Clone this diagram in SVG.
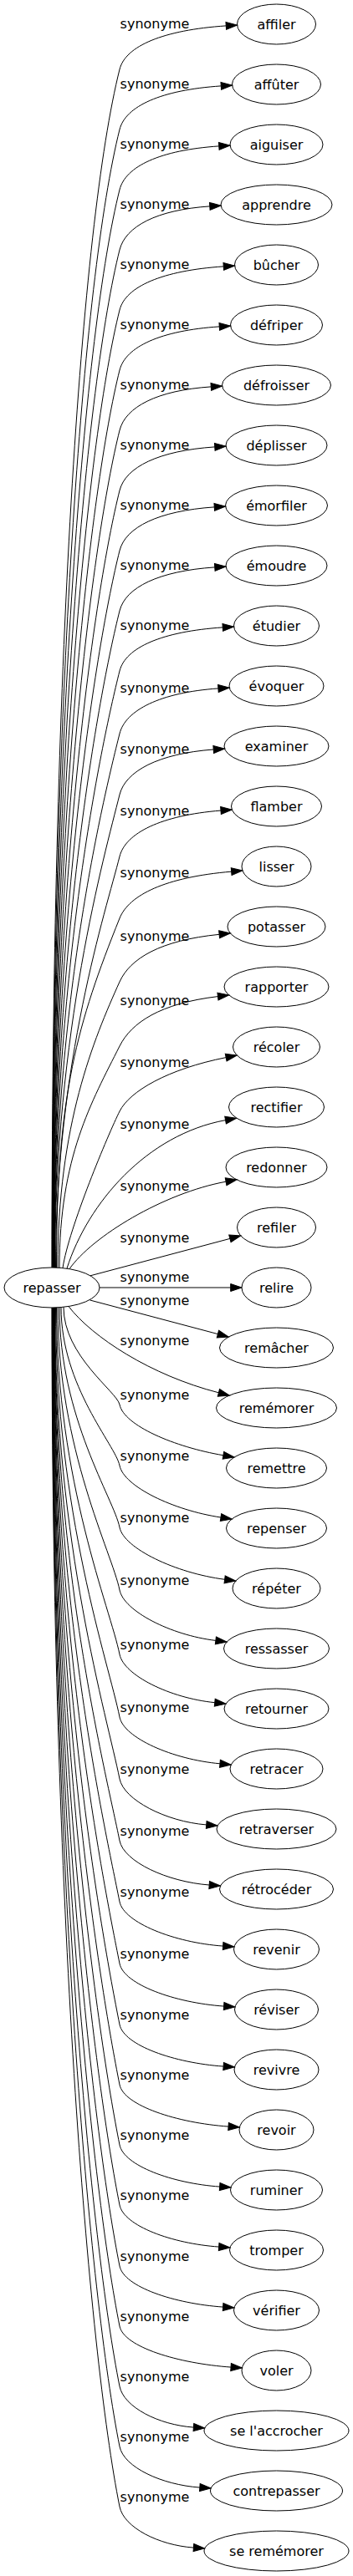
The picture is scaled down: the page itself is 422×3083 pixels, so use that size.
<svg xmlns="http://www.w3.org/2000/svg" width="422" height="3083" viewBox="0 0 422 3083">
<style>
.node ellipse{fill:none;stroke:#000;stroke-width:1}
text{font-family:"DejaVu Sans","Liberation Sans",sans-serif;font-size:16px;fill:#000;text-anchor:middle}
#edges path{fill:none;stroke:#000;stroke-width:1;marker-end:url(#arr)}
</style>
<defs>
<marker id="arr" markerUnits="userSpaceOnUse" viewBox="0 -6 16 12" markerWidth="16" markerHeight="12" refX="0" refY="0" orient="auto" overflow="visible">
<path d="M0,-4.5L13.3,0L0,4.5z" fill="#000" stroke="#000" stroke-width="1"/>
</marker>
</defs>
<rect width="422" height="3083" fill="#fff"/>
<g id="edges">
<path d="M62,1517 C62,800 96.4,269.4 143,83 C150,55 195.18,35.92 270.27,30.89"/>
<path d="M62.3,1517 C62.3,836 98.73,332.06 143,155 C150,127 192.72,107.68 264.28,102.89"/>
<path d="M62.6,1517 C62.6,872 101.07,394.7 143,227 C150,199 191.7,179.59 261.78,174.89"/>
<path d="M62.9,1517 C62.9,908 103.42,457.34 143,299 C150,271 187.19,251.15 250.79,246.89"/>
<path d="M63.2,1517 C63.2,944 105.75,519.98 143,371 C150,343 193.95,323.8 267.27,318.89"/>
<path d="M63.5,1517 C63.5,980 108.1,582.62 143,443 C150,415 191.9,395.61 262.28,390.89"/>
<path d="M63.8,1517 C63.8,1016 110.43,645.26 143,515 C150,487 187.81,467.21 252.29,462.89"/>
<path d="M64.1,1517 C64.1,1052 112.77,707.9 143,587 C150,559 189.65,539.39 256.78,534.89"/>
<path d="M64.4,1517 C64.4,1088 115.11,770.54 143,659 C150,631 189.44,611.37 256.28,606.89"/>
<path d="M64.7,1517 C64.7,1124 117.45,833.18 143,731 C150,703 189.65,683.39 256.78,678.89"/>
<path d="M65,1517 C65,1160 119.79,895.82 143,803 C150,775 193.54,755.76 266.27,750.89"/>
<path d="M65.3,1517 C65.3,1197.5 122.23,961.07 143,878 C150,850 191.35,828.8 260.93,823.93"/>
<path d="M65.6,1517 C65.6,1234 124.6,1024.58 143,951 C150,923 189.01,901.96 255.23,896.99"/>
<path d="M66.5,1517 C66.5,1271 127.01,1088.96 143,1025 C150,997 192.61,975.77 264,970.06"/>
<path d="M67.5,1517 C67.5,1308 93,1224 143,1099 C154.2,1071 197.8,1049.83 276.66,1043.13"/>
<path d="M69,1517.2 C69,1346.1 112.2,1243.4 143,1175 C155.6,1147 191.84,1125.35 262.12,1118.32"/>
<path d="M71,1517.3 C71,1384.65 109.8,1318.3 143,1252 C157,1224 191.16,1200.91 260.47,1192.59"/>
<path d="M75,1517.6 C82,1470 130,1356 143,1330 C155,1306 200.26,1279.59 270.16,1265.61"/>
<path d="M80,1518 C105,1440 175,1358 269.56,1340.61"/>
<path d="M83,1518.7 C110,1480 195,1428 270.1,1414.2"/>
<path d="M108,1526.8 L274.9,1482.4"/>
<path d="M119,1541 L275.7,1541"/>
<path d="M107.5,1556 L260.4,1596.6"/>
<path d="M82,1563.5 C110,1600 180,1646 261.4,1666.8"/>
<path d="M76,1564.3 C76,1622.65 139.97,1665.83 143,1681 C148,1706 208.69,1731.87 266.95,1741.77"/>
<path d="M73,1564.5 C73,1659.28 138.07,1729.37 143,1754 C148,1779 207.14,1807.5 264.02,1816.03"/>
<path d="M71,1564.7 C71,1696.35 136.15,1793.77 143,1828 C148,1853 209.59,1882.61 268.64,1890.29"/>
<path d="M69,1564.8 C69,1733.9 134.21,1859.03 143,1903 C148,1928 203.89,1956.94 257.89,1963.42"/>
<path d="M67.5,1565 C67.5,1772.5 132.21,1926.05 143,1980 C148,2005 203.3,2032.33 256.77,2037.68"/>
<path d="M66.5,1565 C66.5,1810 130.26,1991.3 143,2055 C148,2080 206.58,2105.73 262.97,2110.81"/>
<path d="M65.6,1565 C65.6,1847 128.34,2055.68 143,2129 C148,2154 197.98,2180.04 246.74,2183.94"/>
<path d="M65.3,1565 C65.3,1884 126.41,2120.06 143,2203 C148,2228 199.81,2252.22 250.19,2256"/>
<path d="M65,1565 C65,1920.5 124.51,2183.57 143,2276 C148,2301 208.52,2325 266.63,2329.07"/>
<path d="M64.7,1565 C64.7,1957.5 122.59,2247.95 143,2350 C148,2375 209.05,2396.97 267.62,2401.07"/>
<path d="M64.4,1565 C64.4,1994 120.69,2311.46 143,2423 C148,2448 208.79,2468.99 267.13,2473.07"/>
<path d="M64.1,1565 C64.1,2030 118.82,2374.1 143,2495 C148,2520 211.94,2540.79 273.08,2545.07"/>
<path d="M63.8,1565 C63.8,2066 116.95,2436.74 143,2567 C148,2592 206.42,2613.13 262.66,2617.07"/>
<path d="M63.5,1565 C63.5,2102 115.08,2499.38 143,2639 C148,2664 205.9,2685.17 261.67,2689.07"/>
<path d="M63.2,1565 C63.2,2138.5 113.18,2562.89 143,2712 C148,2737 208.52,2757 266.63,2761.07"/>
<path d="M62.9,1565 C62.9,2174.5 111.31,2625.53 143,2784 C148,2809 213.52,2828.69 276.06,2833.07"/>
<path d="M62.6,1565 C62.6,2210.5 109.43,2688.17 143,2856 C148,2881 189.86,2902.16 231.41,2905.07"/>
<path d="M62.3,1565 C62.3,2246.5 107.56,2750.81 143,2928 C148,2953 193.8,2973.92 238.85,2977.07"/>
<path d="M62,1565 C62,2282.5 105.69,2813.45 143,3000 C148,3025 189.86,3046.16 231.41,3049.07"/>
<g id="edge-labels">
<text x="185" y="34">synonyme</text>
<text x="185" y="106">synonyme</text>
<text x="185" y="178">synonyme</text>
<text x="185" y="250">synonyme</text>
<text x="185" y="322">synonyme</text>
<text x="185" y="394">synonyme</text>
<text x="185" y="466">synonyme</text>
<text x="185" y="538">synonyme</text>
<text x="185" y="610">synonyme</text>
<text x="185" y="682">synonyme</text>
<text x="185" y="754">synonyme</text>
<text x="185" y="829">synonyme</text>
<text x="185" y="902">synonyme</text>
<text x="185" y="976">synonyme</text>
<text x="185" y="1050">synonyme</text>
<text x="185" y="1126">synonyme</text>
<text x="185" y="1203">synonyme</text>
<text x="185" y="1277">synonyme</text>
<text x="185" y="1351">synonyme</text>
<text x="185" y="1425">synonyme</text>
<text x="185" y="1487">synonyme</text>
<text x="185" y="1534">synonyme</text>
<text x="185" y="1562">synonyme</text>
<text x="185" y="1610">synonyme</text>
<text x="185" y="1675">synonyme</text>
<text x="185" y="1748">synonyme</text>
<text x="185" y="1822">synonyme</text>
<text x="185" y="1897">synonyme</text>
<text x="185" y="1974">synonyme</text>
<text x="185" y="2049">synonyme</text>
<text x="185" y="2123">synonyme</text>
<text x="185" y="2197">synonyme</text>
<text x="185" y="2270">synonyme</text>
<text x="185" y="2344">synonyme</text>
<text x="185" y="2417">synonyme</text>
<text x="185" y="2489">synonyme</text>
<text x="185" y="2561">synonyme</text>
<text x="185" y="2633">synonyme</text>
<text x="185" y="2706">synonyme</text>
<text x="185" y="2778">synonyme</text>
<text x="185" y="2850">synonyme</text>
<text x="185" y="2922">synonyme</text>
<text x="185" y="2994">synonyme</text>
</g>
</g>
<g id="n-repasser" class="node"><ellipse cx="62" cy="1541" rx="57" ry="24"/><text x="62" y="1547">repasser</text></g>
<g id="n-affiler" class="node"><ellipse cx="330.5" cy="29" rx="47" ry="24"/><text x="330.5" y="35">affiler</text></g>
<g id="n-affuter" class="node"><ellipse cx="330.5" cy="101" rx="53" ry="24"/><text x="330.5" y="107">affûter</text></g>
<g id="n-aiguiser" class="node"><ellipse cx="330.5" cy="173" rx="55.5" ry="24"/><text x="330.5" y="179">aiguiser</text></g>
<g id="n-apprendre" class="node"><ellipse cx="330.5" cy="245" rx="66.5" ry="24"/><text x="330.5" y="251">apprendre</text></g>
<g id="n-bucher" class="node"><ellipse cx="330.5" cy="317" rx="50" ry="24"/><text x="330.5" y="323">bûcher</text></g>
<g id="n-defriper" class="node"><ellipse cx="330.5" cy="389" rx="55" ry="24"/><text x="330.5" y="395">défriper</text></g>
<g id="n-defroisser" class="node"><ellipse cx="330.5" cy="461" rx="65" ry="24"/><text x="330.5" y="467">défroisser</text></g>
<g id="n-deplisser" class="node"><ellipse cx="330.5" cy="533" rx="60.5" ry="24"/><text x="330.5" y="539">déplisser</text></g>
<g id="n-emorfiler" class="node"><ellipse cx="330.5" cy="605" rx="61" ry="24"/><text x="330.5" y="611">émorfiler</text></g>
<g id="n-emoudre" class="node"><ellipse cx="330.5" cy="677" rx="60.5" ry="24"/><text x="330.5" y="683">émoudre</text></g>
<g id="n-etudier" class="node"><ellipse cx="330.5" cy="749" rx="51" ry="24"/><text x="330.5" y="755">étudier</text></g>
<g id="n-evoquer" class="node"><ellipse cx="330.5" cy="821" rx="56.5" ry="24"/><text x="330.5" y="827">évoquer</text></g>
<g id="n-examiner" class="node"><ellipse cx="330.5" cy="893" rx="62.5" ry="24"/><text x="330.5" y="899">examiner</text></g>
<g id="n-flamber" class="node"><ellipse cx="330.5" cy="965" rx="54" ry="24"/><text x="330.5" y="971">flamber</text></g>
<g id="n-lisser" class="node"><ellipse cx="330.5" cy="1037" rx="41.5" ry="24"/><text x="330.5" y="1043">lisser</text></g>
<g id="n-potasser" class="node"><ellipse cx="330.5" cy="1109" rx="58.5" ry="24"/><text x="330.5" y="1115">potasser</text></g>
<g id="n-rapporter" class="node"><ellipse cx="330.5" cy="1181" rx="62.5" ry="24"/><text x="330.5" y="1187">rapporter</text></g>
<g id="n-recoler" class="node"><ellipse cx="330.5" cy="1253" rx="52" ry="24"/><text x="330.5" y="1259">récoler</text></g>
<g id="n-rectifier" class="node"><ellipse cx="330.5" cy="1325" rx="57" ry="24"/><text x="330.5" y="1331">rectifier</text></g>
<g id="n-redonner" class="node"><ellipse cx="330.5" cy="1397" rx="60.5" ry="24"/><text x="330.5" y="1403">redonner</text></g>
<g id="n-refiler" class="node"><ellipse cx="330.5" cy="1469" rx="47" ry="24"/><text x="330.5" y="1475">refiler</text></g>
<g id="n-relire" class="node"><ellipse cx="330.5" cy="1541" rx="41.5" ry="24"/><text x="330.5" y="1547">relire</text></g>
<g id="n-remacher" class="node"><ellipse cx="330.5" cy="1613" rx="68" ry="24"/><text x="330.5" y="1619">remâcher</text></g>
<g id="n-rememorer" class="node"><ellipse cx="330.5" cy="1685" rx="72" ry="24"/><text x="330.5" y="1691">remémorer</text></g>
<g id="n-remettre" class="node"><ellipse cx="330.5" cy="1757" rx="60" ry="24"/><text x="330.5" y="1763">remettre</text></g>
<g id="n-repenser" class="node"><ellipse cx="330.5" cy="1829" rx="60" ry="24"/><text x="330.5" y="1835">repenser</text></g>
<g id="n-repeter" class="node"><ellipse cx="330.5" cy="1901" rx="52.5" ry="24"/><text x="330.5" y="1907">répéter</text></g>
<g id="n-ressasser" class="node"><ellipse cx="330.5" cy="1973" rx="63" ry="24"/><text x="330.5" y="1979">ressasser</text></g>
<g id="n-retourner" class="node"><ellipse cx="330.5" cy="2045" rx="62.5" ry="24"/><text x="330.5" y="2051">retourner</text></g>
<g id="n-retracer" class="node"><ellipse cx="330.5" cy="2117" rx="55.5" ry="24"/><text x="330.5" y="2123">retracer</text></g>
<g id="n-retraverser" class="node"><ellipse cx="330.5" cy="2189" rx="71.5" ry="24"/><text x="330.5" y="2195">retraverser</text></g>
<g id="n-retroceder" class="node"><ellipse cx="330.5" cy="2261" rx="68" ry="24"/><text x="330.5" y="2267">rétrocéder</text></g>
<g id="n-revenir" class="node"><ellipse cx="330.5" cy="2333" rx="51" ry="24"/><text x="330.5" y="2339">revenir</text></g>
<g id="n-reviser" class="node"><ellipse cx="330.5" cy="2405" rx="50" ry="24"/><text x="330.5" y="2411">réviser</text></g>
<g id="n-revivre" class="node"><ellipse cx="330.5" cy="2477" rx="50.5" ry="24"/><text x="330.5" y="2483">revivre</text></g>
<g id="n-revoir" class="node"><ellipse cx="330.5" cy="2549" rx="44.5" ry="24"/><text x="330.5" y="2555">revoir</text></g>
<g id="n-ruminer" class="node"><ellipse cx="330.5" cy="2621" rx="55" ry="24"/><text x="330.5" y="2627">ruminer</text></g>
<g id="n-tromper" class="node"><ellipse cx="330.5" cy="2693" rx="56" ry="24"/><text x="330.5" y="2699">tromper</text></g>
<g id="n-verifier" class="node"><ellipse cx="330.5" cy="2765" rx="51" ry="24"/><text x="330.5" y="2771">vérifier</text></g>
<g id="n-voler" class="node"><ellipse cx="330.5" cy="2837" rx="41.5" ry="24"/><text x="330.5" y="2843">voler</text></g>
<g id="n-se-laccrocher" class="node"><ellipse cx="330.5" cy="2909" rx="86.5" ry="24"/><text x="330.5" y="2915">se l'accrocher</text></g>
<g id="n-contrepasser" class="node"><ellipse cx="330.5" cy="2981" rx="79" ry="24"/><text x="330.5" y="2987">contrepasser</text></g>
<g id="n-se-rememorer" class="node"><ellipse cx="330.5" cy="3053" rx="86.5" ry="24"/><text x="330.5" y="3059">se remémorer</text></g>
</svg>
